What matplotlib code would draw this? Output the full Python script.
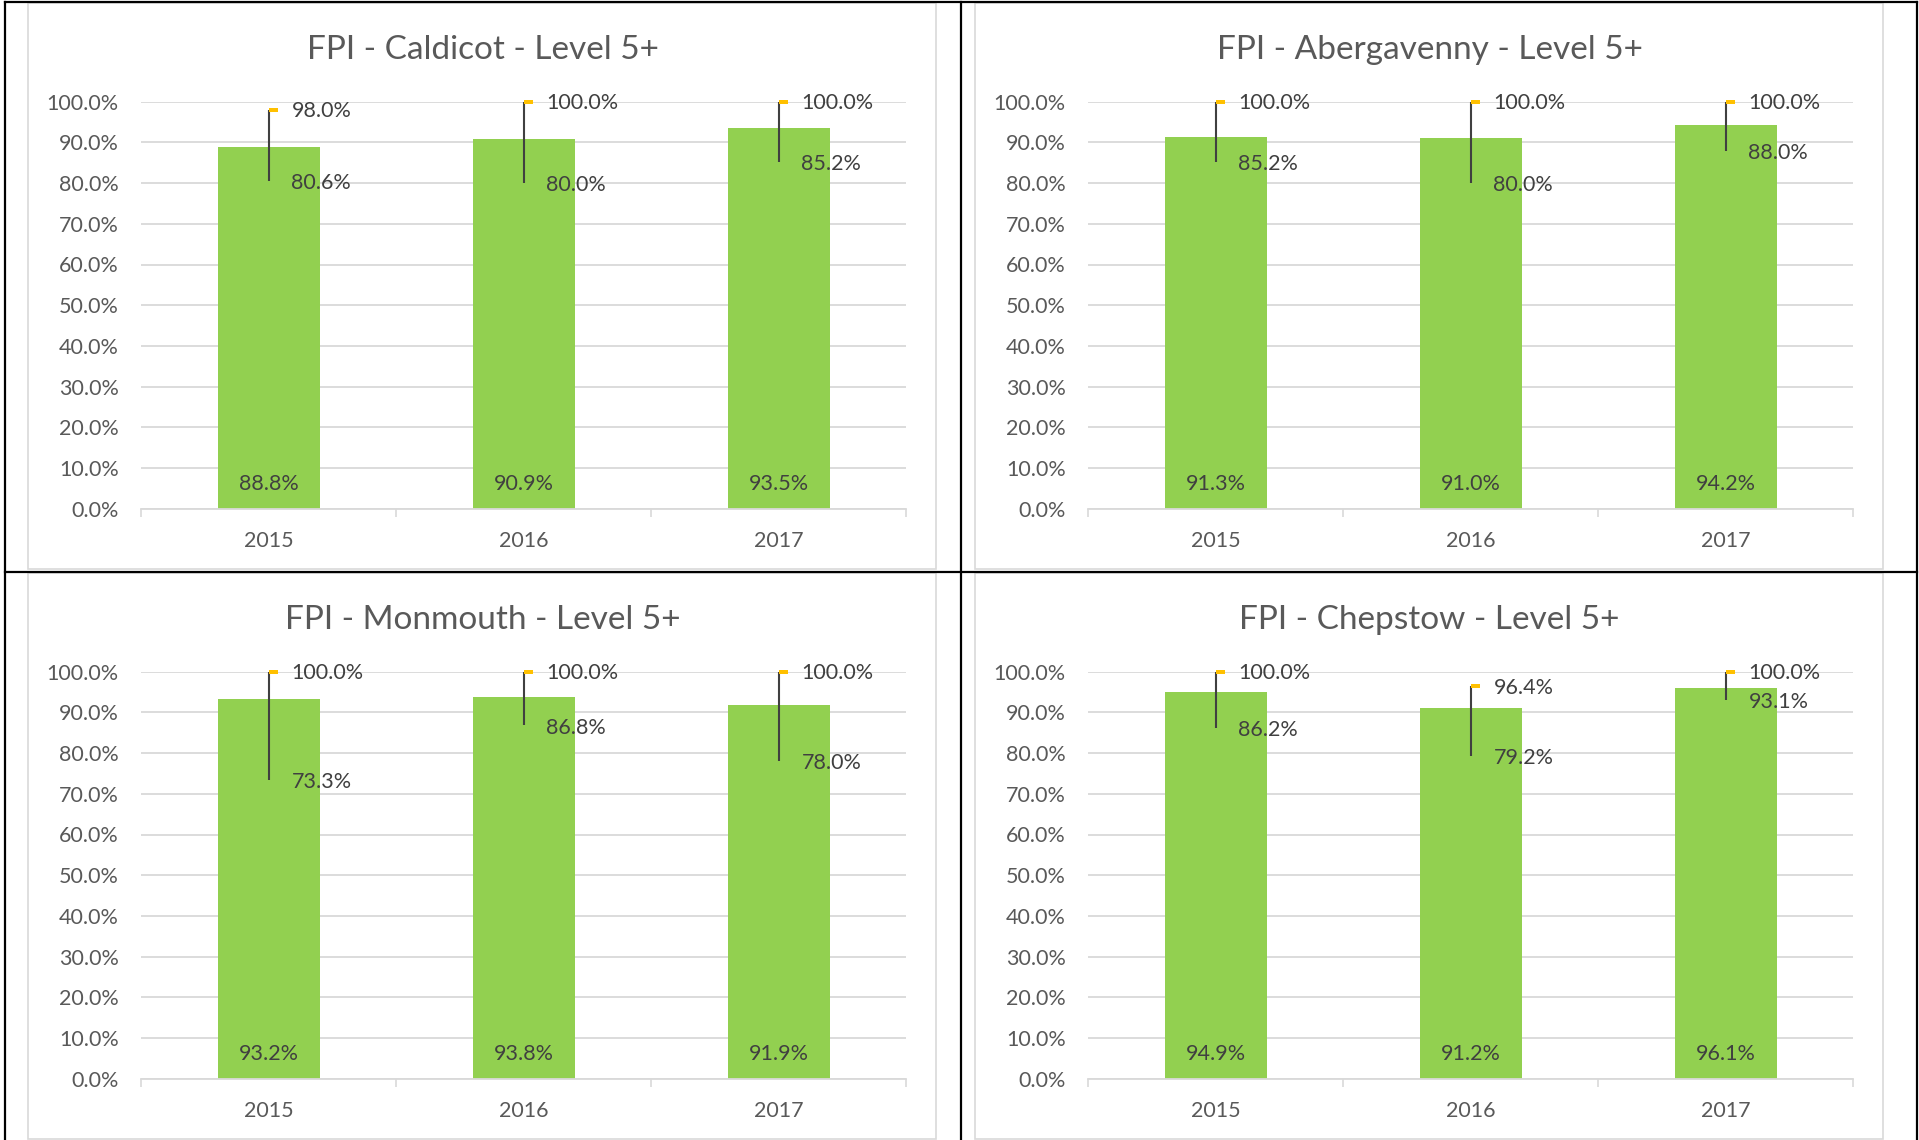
import numpy as np
from matplotlib import pyplot as plt
from matplotlib.lines import Line2D
from matplotlib.patches import Rectangle
from matplotlib.ticker import PercentFormatter

plt.rcParams['font.family'] = ['Lato', 'DejaVu Sans']

years = ['2015', '2016', '2017']
towns = ['Caldicot', 'Abergavenny', 'Monmouth', 'Chepstow']

# bar value (mean), min and max for each town, in %
caldicot_mean = [88.8, 90.9, 93.5]
caldicot_low = [80.6, 80.0, 85.2]
caldicot_high = [98.0, 100.0, 100.0]

abergavenny_mean = [91.3, 91.0, 94.2]
abergavenny_low = [85.2, 80.0, 88.0]
abergavenny_high = [100.0, 100.0, 100.0]

monmouth_mean = [93.2, 93.8, 91.9]
monmouth_low = [73.3, 86.8, 78.0]
monmouth_high = [100.0, 100.0, 100.0]

chepstow_mean = [94.9, 91.2, 96.1]
chepstow_low = [86.2, 79.2, 93.1]
chepstow_high = [100.0, 96.4, 100.0]

panels = [
    (towns[0], caldicot_mean, caldicot_low, caldicot_high),
    (towns[1], abergavenny_mean, abergavenny_low, abergavenny_high),
    (towns[2], monmouth_mean, monmouth_low, monmouth_high),
    (towns[3], chepstow_mean, chepstow_low, chepstow_high),
]

W, H = 1919, 1140
GREEN = '#92D050'
GRID = '#D9D9D9'
TEXT = '#595959'
LABEL = '#404040'
GOLD = '#FFC000'
FS = 15.5

fig = plt.figure(figsize=(W / 100, H / 100), dpi=100)


def fx(px):
    return px / W


def fy(py):
    return 1 - py / H


# little flag marker sticking out to the right of the high point
flag = [(0, -0.2), (1, -0.2), (1, 0.2), (0, 0.2), (0, -0.2)]

for i, (town, mean, low, high) in enumerate(panels):
    col, row = i % 2, i // 2
    dx, dy = 947 * col, 570 * row

    # chart area frame, kept behind the axes
    fig.patches.append(Rectangle((fx(28 + dx), fy(569 + dy)), fx(908), 566 / H,
                                 transform=fig.transFigure, facecolor='white',
                                 edgecolor=GRID, lw=1.2, zorder=-5))

    left, right = 141 + dx, 906 + dx
    top, bottom = 101.7 + dy, 508.7 + dy
    ax = fig.add_axes([fx(left), fy(bottom), fx(right - left), (bottom - top) / H])
    ax.set_zorder(2)

    x = np.arange(len(years))
    m = np.array(mean) / 100
    lo = np.array(low) / 100
    hi = np.array(high) / 100

    ax.bar(x, m, width=0.4, color=GREEN, zorder=2)
    ax.vlines(x, lo, hi, color=LABEL, lw=1.5, zorder=3)
    ax.plot(x, hi, ls='none', marker=flag, ms=13, color=GOLD, mec=GOLD, mew=0,
            zorder=4, clip_on=False)

    for xi, v, l, h in zip(x, m, lo, hi):
        ax.annotate(f'{v * 100:.1f}%', (xi, 0), xytext=(0, 18), textcoords='offset points',
                    ha='center', va='center', fontsize=FS, color=LABEL, zorder=5)
        ax.annotate(f'{h * 100:.1f}%', (xi, h), xytext=(16.5, -1), textcoords='offset points',
                    ha='left', va='center', fontsize=FS, color=LABEL, zorder=5,
                    annotation_clip=False)
        ax.annotate(f'{l * 100:.1f}%', (xi, l), xytext=(16.5, -1.5), textcoords='offset points',
                    ha='left', va='center', fontsize=FS, color=LABEL, zorder=5)

    ax.set_xlim(-0.5, 2.5)
    ax.set_ylim(0, 1)
    ax.set_yticks(np.arange(0, 1.01, 0.1))
    ax.yaxis.set_major_formatter(PercentFormatter(1.0, decimals=1))
    ax.set_xticks(x)
    ax.set_xticklabels(years)
    ax.set_xticks([-0.5, 0.5, 1.5, 2.5], minor=True)
    ax.tick_params(axis='y', length=0, pad=16, labelsize=FS, labelcolor=TEXT)
    ax.tick_params(axis='x', which='major', length=0, pad=16, labelsize=FS, labelcolor=TEXT)
    ax.tick_params(axis='x', which='minor', length=6, width=1.2, color=GRID, direction='out')
    ax.grid(axis='y', color=GRID, lw=1.3)
    ax.set_axisbelow(True)
    for s in ['top', 'right', 'left']:
        ax.spines[s].set_visible(False)
    ax.spines['bottom'].set_color(GRID)
    ax.spines['bottom'].set_linewidth(1.3)
    ax.patch.set_alpha(0)

    fig.text(fx(482.5 + dx), fy(50 + dy), f'FPI - {town} - Level 5+', ha='center', va='center',
             fontsize=24, color=TEXT)

# black table lines round the four charts
for xl in [5, 961, 1917]:
    fig.add_artist(Line2D([fx(xl), fx(xl)], [fy(2), fy(1140)], color='black', lw=1.6))
for yl in [2, 572]:
    fig.add_artist(Line2D([fx(5), fx(1917)], [fy(yl), fy(yl)], color='black', lw=1.6))

fig.savefig('out.png', dpi=100, facecolor='white')
